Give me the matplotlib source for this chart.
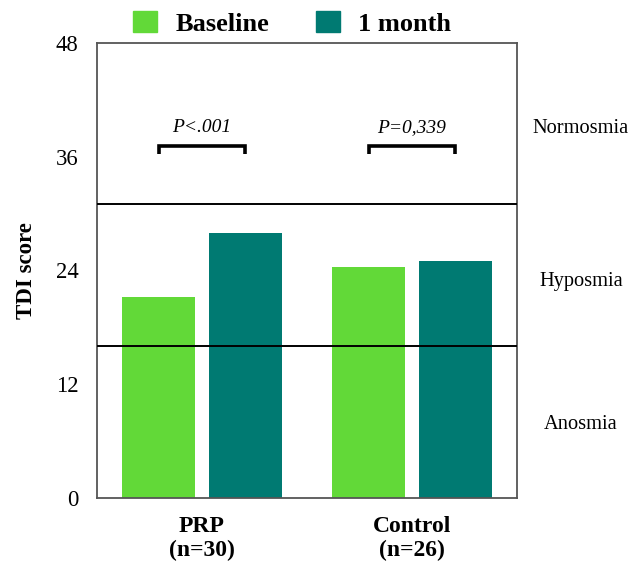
import matplotlib
matplotlib.use("Agg")
import matplotlib.pyplot as plt
from matplotlib.patches import Patch
import numpy as np

groups = ["PRP\n(n=30)", "Control\n(n=26)"]
series_names = ["Baseline", "1 month"]
baseline = [21.2, 24.4]
one_month = [28.0, 25.0]
p_values = ["P<.001", "P=0,339"]
thresholds = [16, 31]
zones = ["Anosmia", "Hyposmia", "Normosmia"]
zone_y = [7.8, 22.8, 39.0]
yticks = [0, 12, 24, 36, 48]

c_base = "#62d938"
c_month = "#007a72"

plt.rcParams['font.family'] = ['Liberation Serif', 'DejaVu Serif']

fig = plt.figure(figsize=(6.32, 5.61), dpi=100)
ax = fig.add_axes([97/632, 1-498/561, 420/632, 455/561])

x = np.arange(len(groups))
w = 0.344
off = 0.207
ax.bar(x - off, baseline, w, color=c_base, zorder=2)
ax.bar(x + off, one_month, w, color=c_month, zorder=2)

for t in thresholds:
    ax.axhline(t, color="black", lw=1.4, zorder=3)

for i, p in enumerate(p_values):
    x0, x1 = x[i] - off, x[i] + off
    yb = 37.1
    ax.plot([x0, x0, x1, x1], [yb - 0.8, yb, yb, yb - 0.8], color="black", lw=2.6,
            solid_joinstyle="miter", solid_capstyle="butt", zorder=3)
    ax.text(x[i], 39.1, p, ha="center", va="center", fontsize=14, style="italic")

for z, zy in zip(zones, zone_y):
    ax.text(1.0 + 64/420, zy, z, transform=ax.get_yaxis_transform(), ha="center",
            va="center", fontsize=14.7)

ax.set_xlim(-0.5, 1.5)
ax.set_ylim(0, 48)
ax.set_yticks(yticks)
ax.set_xticks(x)
ax.set_xticklabels(groups, fontsize=17, fontweight="bold", linespacing=1.15)
ax.tick_params(axis="y", length=0, pad=13.5, labelsize=16.3)
ax.tick_params(axis="x", length=0, pad=13)
ax.set_ylabel("TDI score", fontsize=16.5, fontweight="bold", labelpad=13)
for s in ax.spines.values():
    s.set_color("#555555")
    s.set_linewidth(1.3)

handles = [Patch(color=c_base, label=series_names[0]), Patch(color=c_month, label=series_names[1])]
fig.legend(handles=handles, loc="center", bbox_to_anchor=(292.4/632, 1-23.5/561), ncol=2,
           frameon=False, prop={"size": 19, "weight": "bold"}, handlelength=0.9,
           handleheight=0.83, handletextpad=0.7, columnspacing=1.77)

fig.savefig("out.png", dpi=100)
